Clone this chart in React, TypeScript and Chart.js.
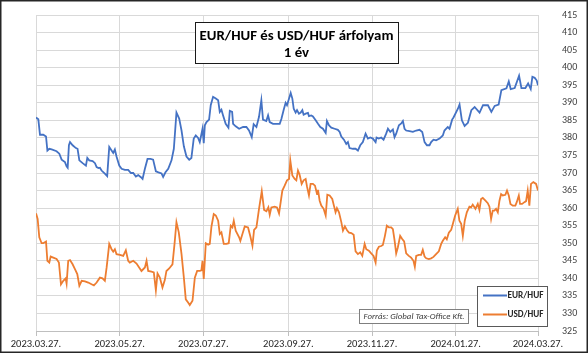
import React, { useEffect, useRef } from "react";
import { Chart, registerables } from "chart.js";

Chart.register(...registerables);

const FONT = "Carlito, Calibri, Lato, 'Open Sans', sans-serif";

const titleLines = ["EUR/HUF és USD/HUF árfolyam", "1 év"];
const sourceText = "Forrás: Global Tax-Office Kft.";
const seriesNames = ["EUR/HUF", "USD/HUF"];
const seriesColors = ["#4472C4", "#ED7D31"];

// x axis: days since 2023.03.27.
const xTickDays = [0, 61, 122, 184, 245, 306, 366];
const xTickLabels = ["2023.03.27.", "2023.05.27.", "2023.07.27.", "2023.09.27.", "2023.11.27.", "2024.01.27.", "2024.03.27."];
const yMin = 325;
const yMax = 415;
const yStep = 5;

const eurDays = [
  0, 1.7, 2.9, 5.3, 7.3, 8.3, 9.7, 11.4, 15, 17,
  18.7, 21.1, 22.3, 23.1, 24, 24.8, 26.7, 29.1, 30.3, 31.6,
  34, 36.4, 37.4, 38.8, 41.3, 43, 44.2, 45.6, 46.6, 47.8,
  50.2, 51.9, 53.4, 55.1, 56.3, 57.5, 58.7, 60.7, 62.4, 64.8,
  67.2, 69.2, 70.9, 72.8, 74.5, 76.5, 77.7, 79.4, 81.3, 83.5,
  85.4, 87.4, 89.3, 91.5, 92.7, 94.4, 96.4, 98.8, 100.5, 102.4,
  104.4, 106.1, 107.8, 109.7, 111.7, 113.3, 115, 116.5, 118.2, 119.4,
  121.4, 122.3, 123.1, 124.3, 126.2, 127.4, 129.1, 131.1, 132.8, 134,
  135.2, 136.4, 138.3, 140.3, 141.3, 143, 143.7, 145.6, 148.1, 151,
  153.4, 155.3, 157.3, 158.7, 160.7, 162.6, 164.3, 165.5, 167.9, 169.2,
  170.4, 172.8, 175.2, 177.7, 178.9, 180.6, 182, 183, 184.5, 185.7,
  186.9, 187.9, 189.3, 190.3, 191.7, 193, 194.2, 195.1, 196.6, 198.3,
  199, 200.7, 201.9, 203.9, 205.6, 207.3, 209.2, 211.2, 212.1, 213.6,
  215.3, 217.7, 220.1, 221.4, 222.6, 224.5, 226.2, 227.4, 228.6, 231.1,
  233, 234.7, 236.4, 238.3, 240.3, 242, 243.7, 245.6, 247.6, 248.3,
  249.9, 251.7, 253.4, 255.3, 256.6, 258.3, 260.2, 261.4, 262.6, 264.6,
  266.3, 267.5, 268.7, 269.9, 272.3, 274.8, 277.2, 279.6, 281.6, 283.3,
  285, 286.9, 288.1, 289.8, 291.7, 294.2, 296.6, 297.8, 300.2, 301.5,
  303.4, 304.4, 307.6, 308.8, 310.5, 312.5, 314.9, 317.4, 319.8, 323.4,
  325.9, 329.5, 332, 334.4, 337.3, 339.3, 343, 344.7, 346.1, 349,
  352.2, 353.9, 356.8, 358.8, 360.7, 361.9, 363.6, 365, 366,
];
const eurValues = [
  385.8, 385.3, 380.9, 380.9, 380.4, 376.4, 376.9, 376.7, 376.2, 375.5,
  373.8, 373.1, 371.9, 371.5, 377.9, 378.8, 377.9, 377.1, 376.9, 373.6,
  372.8, 372.1, 374.3, 373.6, 373.4, 372.8, 371.7, 371.4, 371.5, 370.7,
  369.8, 369.1, 377.4, 376.4, 375.7, 376.7, 374.7, 372.1, 371.2, 370.9,
  370.9, 370, 370, 369, 369.4, 368.8, 368.3, 371.2, 374, 374,
  373.8, 370.5, 370.2, 369.9, 368.9, 370.2, 371.2, 373.6, 376.9, 387.2,
  385.5, 382.1, 377.6, 374.7, 373.8, 374.3, 379.8, 380.7, 380, 378.8,
  382.6, 378.5, 383.6, 384.5, 385.2, 389.3, 391.7, 391.2, 390.7, 387.4,
  388, 386.4, 384, 382.9, 387.7, 387.4, 384, 383.3, 382.6, 383.1,
  383.1, 382.1, 380.2, 383.9, 383.1, 386, 390.7, 385.2, 384.8, 386.4,
  384.5, 384, 384, 384, 385.4, 388, 390, 389.3, 391.2, 392.8,
  391.2, 388.3, 387.2, 387.9, 386.9, 387.2, 387.9, 386.6, 386.9, 387.1,
  386.2, 386.4, 386.1, 385, 384, 383.1, 382.6, 381.4, 384.8, 383.6,
  382.9, 382.6, 382.3, 381.7, 380.4, 379.5, 378.3, 378.8, 377.1, 376.9,
  376.9, 376.4, 377.9, 378.8, 381.2, 379.8, 380.1, 379.8, 378.8, 380.1,
  379.8, 380.1, 379.5, 381.2, 382.6, 381.7, 382.4, 380.2, 381.2, 383.6,
  384.1, 384.8, 382.6, 382.1, 381.9, 381.7, 382.1, 382.3, 381.7, 378.8,
  377.9, 377.9, 378.8, 379.5, 379.3, 379.8, 380.7, 382.1, 383.1, 382.6,
  385.2, 385.8, 388.3, 389.5, 385, 383.4, 384.3, 387.9, 388.8, 387.2,
  389.3, 389.3, 387.4, 389.1, 389.5, 393.6, 394.1, 396.1, 393.9, 394.2,
  397.7, 394.2, 394.2, 395.5, 393.9, 397.4, 397.1, 396.4, 395,
];

const usdDays = [
  0, 1.2, 2.4, 4.1, 5.3, 7.3, 8.3, 9.7, 10.7, 12.6,
  15, 16.7, 18.2, 19.9, 21.6, 22.3, 23.5, 24.8, 26.7, 28.4,
  30.1, 31.6, 33.3, 35.7, 38.1, 40.5, 42.2, 44.2, 46.6, 48.5,
  50.2, 51.5, 53.4, 55.1, 56.3, 57.5, 58.7, 61.2, 63.6, 65.5,
  67.2, 68.4, 70.9, 73.3, 75.2, 76.9, 79.4, 80.6, 81.8, 84.2,
  85.9, 87.4, 88.6, 90.3, 92.2, 93.9, 95.1, 97.1, 99.5, 101,
  102.4, 104.1, 106.1, 107.8, 109.2, 110.9, 112.1, 114.1, 115.8, 117.5,
  119.4, 120.6, 121.4, 122.3, 123.8, 125.5, 126.7, 127.9, 129.6, 131.1,
  132.8, 134, 135.2, 136.9, 138.8, 140.5, 142, 143.2, 144.2, 145.6,
  148.1, 149, 150.5, 152.2, 154.6, 156.3, 157.8, 159, 160.7, 162.6,
  164.6, 166.3, 168, 169.4, 170.4, 171.6, 174, 175.7, 177.2, 179.6,
  181.3, 183, 184.5, 185.4, 186.9, 188.6, 189.8, 191, 192.2, 193.7,
  195.1, 196.6, 197.6, 199, 200.2, 201.9, 203.4, 204.9, 205.6, 206.8,
  208, 209.7, 211.2, 212.4, 214.1, 216, 217.2, 218.4, 219.4, 220.9,
  222.6, 223.8, 225.2, 226.9, 228.2, 229.9, 231.6, 233, 234.7, 236.4,
  237.9, 239.6, 240.8, 242.7, 244.4, 246.1, 247.6, 248.5, 250, 251.7,
  252.9, 254.4, 255.8, 257.3, 259, 260.2, 261.4, 262.6, 263.8, 265.5,
  267, 268.4, 269.9, 271.8, 273.5, 275.2, 276.2, 277.2, 279.1, 280.8,
  282, 283.3, 284.5, 286.4, 288.1, 289.8, 291.7, 293.7, 295.4, 296.6,
  298.3, 299.5, 301, 302.7, 303.9, 305.6, 307.5, 308.7, 310, 311.2,
  312.6, 314.1, 316, 317.2, 318.4, 320.4, 322.1, 323.3, 324.5, 325.7,
  327.7, 329.4, 330.6, 331.8, 333, 334.2, 335.4, 336.7, 337.9, 339.1,
  340.3, 342.2, 343.4, 344.7, 345.9, 347.6, 349.5, 350.5, 352, 352.9,
  354.4, 356.1, 357.3, 358.5, 359.7, 360.9, 362.6, 364.6, 366,
];
const usdValues = [
  358.5, 356.9, 351.7, 350, 350, 350.5, 345, 344.5, 346.2, 345.9,
  345.5, 344.5, 338.3, 339.3, 340, 338.5, 345, 345.2, 344, 342.6,
  341.2, 337.9, 339.3, 339.1, 338.8, 338.3, 338, 338.8, 340.2, 340,
  339.3, 343.1, 349.8, 348.3, 347.6, 348.3, 346.9, 346.7, 346.4, 348,
  345, 344.5, 345, 344.2, 343.1, 342.1, 343.1, 345, 342.1, 341.9,
  341.7, 336.6, 341.4, 340.2, 337.4, 339.5, 342.1, 342.8, 344, 349.8,
  356, 353.1, 346.9, 340.2, 334, 333.1, 332.4, 333.6, 340.2, 342.1,
  342.1, 342.3, 345, 339.8, 350, 349.6, 349.8, 354.7, 358.3, 357.9,
  356.4, 352.6, 353.1, 349.8, 349.8, 350, 355, 354.5, 356.4, 353.6,
  351.7, 350.7, 352.6, 354.8, 354.5, 351.9, 349.3, 353.8, 354.5, 359.8,
  364.8, 359.5, 359.1, 360.2, 358.1, 360.2, 360.4, 360.2, 358.5, 365,
  366.4, 367.9, 368.3, 373.6, 369.3, 368.3, 367.9, 370.7, 369.5, 366.9,
  367.9, 368.3, 366.1, 363.6, 366.9, 366.9, 366.4, 364, 365.2, 362.1,
  360.7, 359.8, 357.9, 363.8, 363.6, 362.6, 360.7, 358.8, 360, 358.8,
  356, 353.6, 354.8, 353.6, 353, 352.9, 352.4, 347.7, 346.9, 347.4,
  346.4, 349.8, 348.3, 347.9, 347.1, 346.4, 344.5, 347.9, 349, 349.2,
  349.5, 352.1, 355, 354.5, 354.5, 354, 350.9, 347.1, 348.8, 352.1,
  351.2, 350.5, 347.1, 346.4, 345.9, 345, 343.3, 346.4, 346.7, 346.7,
  348.1, 346.2, 345.7, 345.5, 345.7, 346.1, 346.9, 347.7, 349.8, 350.7,
  351.7, 351.1, 353, 353.8, 355.5, 357.9, 359.8, 356.4, 355.5, 352.1,
  356.4, 358.8, 360.4, 360.2, 361, 359.8, 361.2, 359.5, 362.6, 362.9,
  362.1, 361.4, 360.4, 356.9, 359.3, 359.3, 359.8, 358.8, 362.1, 364,
  363.6, 363.8, 365, 363.6, 361.2, 360.7, 360.7, 361.7, 363.6, 361.2,
  361.2, 361.7, 362, 365, 360.7, 366.9, 367.4, 366.9, 365,
];

function fitFont(ctx: CanvasRenderingContext2D, text: string, target: number, style: string, base: number) {
  ctx.font = `${style} ${base}px ${FONT}`;
  const w = ctx.measureText(text).width;
  const size = Math.min(base * 1.2, (base * target) / w);
  ctx.font = `${style} ${size.toFixed(2)}px ${FONT}`;
}

const overlayPlugin = {
  id: "overlay",
  afterDraw(chart: any) {
    const ctx: CanvasRenderingContext2D = chart.ctx;
    ctx.save();
    // title box
    ctx.fillStyle = "#ffffff";
    ctx.fillRect(195, 22, 203, 41);
    ctx.strokeStyle = "#1a1a1a";
    ctx.lineWidth = 1;
    ctx.strokeRect(195.5, 22.5, 203, 41);
    ctx.fillStyle = "#000000";
    ctx.textAlign = "center";
    ctx.textBaseline = "middle";
    fitFont(ctx, titleLines[0], 194, "bold", 14);
    ctx.fillText(titleLines[0], 296.5, 36.5);
    ctx.fillText(titleLines[1], 296.5, 53.5);

    // source box
    ctx.fillStyle = "#ffffff";
    ctx.fillRect(359, 309, 109, 14);
    ctx.strokeStyle = "#7f7f7f";
    ctx.strokeRect(359.5, 309.5, 109, 14);
    ctx.fillStyle = "#404040";
    fitFont(ctx, sourceText, 101, "italic", 8);
    ctx.fillText(sourceText, 414, 316.8);

    // legend box
    ctx.fillStyle = "#ffffff";
    ctx.fillRect(477, 286, 70, 40);
    ctx.strokeStyle = "#595959";
    ctx.strokeRect(477.5, 286.5, 70, 40);
    const rows = [295.5, 314.5];
    seriesNames.forEach((name, i) => {
      ctx.strokeStyle = seriesColors[i];
      ctx.lineWidth = 2;
      ctx.beginPath();
      ctx.moveTo(483, rows[i]);
      ctx.lineTo(507, rows[i]);
      ctx.stroke();
      ctx.fillStyle = "#262626";
      ctx.textAlign = "left";
      fitFont(ctx, name, 36, "bold", 9);
      ctx.fillText(name, 507.5, rows[i] + 0.5);
    });

    // outer border
    ctx.strokeStyle = "#262626";
    ctx.lineWidth = 1.5;
    ctx.strokeRect(0.75, 0.75, 586.5, 351.5);
    ctx.restore();
  },
};

export default function App() {
  const ref = useRef<HTMLCanvasElement | null>(null);

  useEffect(() => {
    if (!ref.current) return;
    const chart = new Chart(ref.current, {
      type: "line",
      data: {
        datasets: [
          {
            label: seriesNames[0],
            data: eurDays.map((d, i) => ({ x: d, y: eurValues[i] })),
            borderColor: seriesColors[0],
            backgroundColor: seriesColors[0],
            borderWidth: 1.8,
            pointRadius: 0,
            tension: 0,
          },
          {
            label: seriesNames[1],
            data: usdDays.map((d, i) => ({ x: d, y: usdValues[i] })),
            borderColor: seriesColors[1],
            backgroundColor: seriesColors[1],
            borderWidth: 1.8,
            pointRadius: 0,
            tension: 0,
          },
        ],
      },
      options: {
        animation: false,
        responsive: false,
        maintainAspectRatio: false,
        devicePixelRatio: 1,
        layout: { padding: { left: 36, top: 15, right: 0, bottom: 0 } },
        plugins: {
          legend: { display: false },
          title: { display: false },
          tooltip: { enabled: false },
        },
        scales: {
          x: {
            type: "linear",
            min: 0,
            max: 366,
            afterBuildTicks: (s: any) => {
              s.ticks = xTickDays.map((v) => ({ value: v }));
            },
            afterFit: (s: any) => {
              s.height = 22;
            },
            ticks: {
              autoSkip: false,
              maxRotation: 0,
              padding: 2,
              color: "#262626",
              font: { family: FONT, size: 10.5 },
              callback: (_v: any, i: number) => xTickLabels[i],
            },
            grid: { color: "#d9d9d9", tickColor: "#bfbfbf", tickLength: 5, drawTicks: true },
            border: { color: "#bfbfbf" },
          },
          y: {
            position: "right",
            min: yMin,
            max: yMax,
            afterFit: (s: any) => {
              s.width = 50;
            },
            ticks: {
              stepSize: yStep,
              padding: 0,
              color: "#404040",
              font: { family: FONT, size: 10 },
            },
            grid: { color: "#d9d9d9", drawTicks: true, tickLength: 24, tickColor: "rgba(0,0,0,0)" },
            border: { display: false },
          },
        },
      },
      plugins: [overlayPlugin],
    } as any);
    return () => chart.destroy();
  }, []);

  return (
    <div style={{ position: "fixed", left: 0, top: 0, width: 588, height: 353, background: "#ffffff" }}>
      <canvas ref={ref} width={588} height={353} style={{ display: "block", width: 588, height: 353 }} />
    </div>
  );
}
